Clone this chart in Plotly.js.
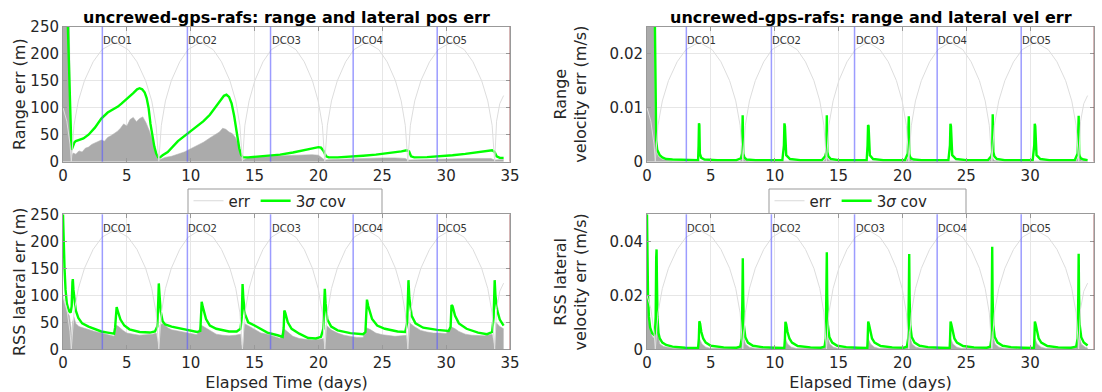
<!DOCTYPE html>
<html><head><meta charset="utf-8">
<script src="https://cdn.plot.ly/plotly-3.0.1.min.js"></script>
<style>html,body{margin:0;padding:0;background:#fff}#chart{width:1102px;height:392px}</style>
</head><body><div id="chart"></div>
<script>
// ---------- data ----------
const xTicks = [0, 5, 10, 15, 20, 25, 30, 35];
const dcoDays = [3.08, 9.74, 16.25, 22.72, 29.3];
const dcoNames = ['DCO1', 'DCO2', 'DCO3', 'DCO4', 'DCO5'];
const endDay = [35];

// light gray arcs (fraction of axis height)
const arcDays = [0, 0.3, 0.55, 0.65,
  0.86, 1.2, 1.68, 2.36, 3.05, 4.08, 5.1, 5.79, 6.47, 6.95, 7.29, 7.5,
  7.7, 8.02, 8.48, 9.14, 9.79, 10.78, 11.76, 12.41, 13.07, 13.53, 13.85, 14.05,
  14.24, 14.57, 15.02, 15.66, 16.31, 17.28, 18.24, 18.89, 19.53, 19.98, 20.31, 20.5,
  20.7, 21.02, 21.48, 22.13, 22.78, 23.75, 24.73, 25.38, 26.03, 26.48, 26.8, 27.0,
  27.2, 27.54, 28.02, 28.7, 29.38, 30.4, 31.42, 32.1, 32.78, 33.26, 33.6, 33.8,
  33.95, 34.2, 34.5];
const arcFrac = [0.4, 0.3, 0.13, 0,
  0.27, 0.45, 0.6, 0.74, 0.83, 0.886, 0.83, 0.74, 0.6, 0.45, 0.27, 0,
  0.27, 0.45, 0.6, 0.74, 0.83, 0.886, 0.83, 0.74, 0.6, 0.45, 0.27, 0,
  0.27, 0.45, 0.6, 0.74, 0.83, 0.886, 0.83, 0.74, 0.6, 0.45, 0.27, 0,
  0.27, 0.45, 0.6, 0.74, 0.83, 0.886, 0.83, 0.74, 0.6, 0.45, 0.27, 0,
  0.27, 0.45, 0.6, 0.74, 0.83, 0.886, 0.83, 0.74, 0.6, 0.45, 0.27, 0,
  0.3, 0.43, 0.49];

// range position error (m)
const errPosRangeX = [0,0.5,0.55,0.62,0.68,0.8,1.0,1.25,1.5,1.75,2.0,2.25,2.5,2.75,3.0,3.25,3.5,3.75,4.0,4.25,4.5,4.75,5.0,5.25,5.5,5.75,6.0,6.25,6.5,6.75,7.0,7.25,7.45,7.6,8.0,8.5,9.0,9.5,10.0,10.5,11.0,11.5,12.0,12.25,12.5,12.75,13.0,13.25,13.5,13.75,13.9,14.05,14.2,14.5,15,16,17,18,19,19.5,20,20.3,20.5,21,22,23,24,25,26,26.8,27,28,30,32,33.5,33.8,34.5];
const errPosRangeY = [250,250,120,40,12,16,14,20,18,25,27,32,35,38,40,38,45,48,52,56,62,70,66,78,82,74,80,83,72,58,40,18,4,4,8,10,14,18,24,30,36,44,52,55,62,60,55,52,45,30,12,3,4,8,9,10,10,11,12,13,12,6,3,4,5,6,6,7,7,6,3,4,5,6,6,3,4];
const covPosRangeX = [0.2,0.39,0.5,0.6,0.66,0.72,0.8,0.9,1.0,1.1,1.3,1.6,2.0,2.5,3.0,3.5,4.0,4.3,4.6,5.0,5.5,5.8,6.0,6.2,6.4,6.55,6.7,6.85,7.0,7.15,7.3,7.45,7.6,7.8,8.2,9.0,9.75,10.5,11.0,11.5,12.0,12.3,12.6,12.8,13.0,13.2,13.4,13.6,13.8,13.95,14.1,14.5,15,16,17,18,19,19.7,20.0,20.2,20.4,20.6,20.8,21.5,22.5,23.5,24.5,25.5,26.5,26.9,27.1,27.25,27.5,28.5,29.5,30.5,31.5,32.5,33.3,33.6,33.8,33.95,34.2,34.5];
const covPosRangeY = [400,250,150,60,22,25,30,36,38,39,40,43,50,63,80,91,98,102,108,116,127,134,136,134,128,118,100,70,45,28,15,8,8,12,18,38,52,66,75,87,103,113,122,124,120,108,85,55,25,12,8,8,9,10.5,13,17,22,26,27,26,20,10,8,8,9,11,13,15.5,19,21,19,10,8,8.5,10,12,14.5,17,20,21,18,10,7,7];

// range velocity error (m/s)
const errVelRangeX = [0,0.55,0.6,0.65,0.75,0.9,1.2,1.6,2.0,7.3,7.5,7.7,8.0,13.85,14.05,14.25,14.5,20.3,20.5,20.7,21.0,26.8,27.0,27.2,27.5,33.6,33.8,34.0,34.5];
const errVelRangeY = [0.025,0.025,0.012,0.004,0.0018,0.0009,0.0004,0.0002,0.0001,0.0001,0.0009,0.0002,0.0001,0.0001,0.0009,0.0002,0.0001,0.0001,0.0009,0.0002,0.0001,0.0001,0.0009,0.0002,0.0001,0.0001,0.0009,0.0002,0.0001];
const covVelRangeX = [0.55,0.6,0.63,0.67,0.72,0.8,0.9,1.0,1.2,1.5,2.0,3.0,4.0,4.04,4.07,4.1,4.14,4.25,4.5,5.5,7.0,7.35,7.44,7.49,7.54,7.62,7.8,8.5,10.6,10.72,10.76,10.8,10.9,11.2,12,13.7,13.95,14.04,14.08,14.12,14.2,14.4,15,17.2,17.27,17.31,17.35,17.45,17.7,18.5,20.2,20.42,20.5,20.54,20.58,20.68,20.9,21.5,23.6,23.72,23.76,23.8,23.9,24.2,25,26.7,26.95,27.03,27.07,27.12,27.2,27.4,28,30.2,30.32,30.36,30.4,30.5,30.8,31.5,33.5,33.72,33.8,33.84,33.88,33.98,34.2,34.5];
const covVelRangeY = [0.04,0.025,0.015,0.009,0.004,0.0022,0.0016,0.0012,0.0008,0.0005,0.0004,0.0003,0.0003,0.003,0.0071,0.0068,0.0015,0.0007,0.0004,0.0003,0.0003,0.0006,0.0015,0.0086,0.0015,0.0008,0.0004,0.0003,0.0003,0.003,0.0071,0.0066,0.0012,0.0005,0.0003,0.0003,0.001,0.0018,0.0086,0.0018,0.001,0.0005,0.0003,0.0003,0.003,0.0068,0.0066,0.0012,0.0005,0.0003,0.0003,0.0015,0.0084,0.0015,0.001,0.0006,0.0004,0.0003,0.0003,0.003,0.007,0.0066,0.0012,0.0005,0.0003,0.0003,0.001,0.0018,0.0088,0.0018,0.001,0.0005,0.0003,0.0003,0.003,0.007,0.0066,0.0012,0.0005,0.0003,0.0003,0.0015,0.0085,0.0015,0.001,0.0006,0.0004,0.0003];

// RSS lateral position error (m)
const errLatPosX = [0,0.15,0.3,0.5,0.62,0.68,0.75,0.85,1.0,1.25,1.5,2.0,2.5,3.0,3.5,4.0,4.15,4.35,4.7,5.0,5.5,6.0,6.5,7.0,7.3,7.45,7.52,7.6,7.8,8.2,8.5,9.0,9.5,10.0,10.5,10.8,11.0,11.5,12.0,12.5,13.0,13.5,13.9,14.0,14.08,14.2,14.5,15.0,15.5,16.0,16.5,17.0,17.3,17.6,18.0,18.5,19.0,19.5,20.0,20.4,20.5,20.6,21.0,21.5,22.0,22.5,23.0,23.5,23.75,24.1,24.5,25.0,25.5,26.0,26.5,26.9,27.0,27.1,27.5,28.0,28.5,29.0,29.5,30.0,30.35,30.7,31.0,31.5,32.0,32.5,33.0,33.6,33.8,33.9,34.2,34.5];
const errLatPosY = [95,80,70,62,40,12,50,60,48,42,40,36,33,30,27,24,45,42,35,30,28,26,27,28,30,10,4,45,48,40,36,34,32,30,27,45,42,34,28,26,25,26,28,8,4,48,44,36,30,28,24,20,38,32,24,20,18,17,18,20,5,45,36,30,26,24,22,22,40,36,30,27,25,24,25,26,5,50,42,35,32,30,30,29,42,38,33,28,26,25,25,28,5,50,42,38];
const covLatPosX = [0,0.05,0.12,0.2,0.3,0.4,0.5,0.6,0.68,0.74,0.77,0.82,0.9,1.0,1.2,1.5,2.0,2.5,3.0,3.5,4.0,4.08,4.15,4.2,4.3,4.5,4.8,5.2,6.0,6.8,7.2,7.38,7.46,7.5,7.56,7.65,7.8,8.0,8.5,9.5,10.5,10.75,10.8,10.86,10.95,11.2,11.5,12,13,13.6,13.9,14.0,14.06,14.12,14.25,14.5,15,16,16.8,17.2,17.28,17.33,17.4,17.6,17.9,18.5,19.2,19.8,20.2,20.38,20.46,20.5,20.56,20.7,21.0,21.5,22.5,23.5,23.68,23.74,23.8,23.9,24.2,24.6,25.2,26.2,26.8,26.95,27.0,27.05,27.12,27.3,27.6,28.2,29.3,30.2,30.35,30.42,30.5,30.7,31.0,31.6,32.5,33.2,33.6,33.72,33.8,33.86,34.0,34.2,34.5];
const covLatPosY = [250,200,150,110,85,76,70,68,80,125,130,110,88,72,58,48,42,37,33,31,29,40,76,78,70,55,44,37,32,31,33,42,90,122,100,70,52,46,42,37,32,34,70,88,78,56,44,38,33,33,38,60,121,95,65,50,44,31,26,23,40,72,68,50,38,29,21,20,23,38,90,112,85,55,42,35,30,28,32,80,92,80,56,44,38,33,32,50,100,128,95,62,48,40,36,34,42,82,80,62,48,38,31,28,32,60,128,100,72,55,44];

// RSS lateral velocity error (m/s)
const errLatVelX = [0,0.05,0.1,0.2,0.3,0.45,0.6,0.7,0.75,0.8,0.9,1.0,1.3,2.0,4.0,4.1,4.3,4.6,5.0,7.3,7.5,7.7,8.0,8.5,10.75,10.84,11.0,11.3,11.7,13.9,14.08,14.3,14.6,15.0,17.25,17.32,17.5,17.8,18.2,20.35,20.53,20.75,21.05,21.5,23.7,23.77,23.95,24.25,24.65,26.85,27.03,27.25,27.55,28.0,30.3,30.37,30.55,30.85,31.25,33.6,33.8,34.0,34.3,34.5];
const errLatVelY = [0.02,0.015,0.012,0.008,0.006,0.0045,0.004,0.009,0.014,0.007,0.004,0.002,0.001,0.0004,0.0003,0.004,0.002,0.0008,0.0003,0.0005,0.006,0.002,0.0008,0.0003,0.0003,0.004,0.002,0.0008,0.0003,0.0005,0.006,0.002,0.0008,0.0003,0.0003,0.004,0.002,0.0008,0.0003,0.0005,0.006,0.002,0.0008,0.0003,0.0003,0.004,0.002,0.0008,0.0003,0.0005,0.006,0.002,0.0008,0.0003,0.0003,0.004,0.002,0.0008,0.0003,0.0005,0.006,0.002,0.0008,0.0005];
const covLatVelX = [0,0.03,0.08,0.15,0.25,0.4,0.55,0.62,0.68,0.72,0.75,0.78,0.82,0.9,1.0,1.2,1.5,2.0,3.0,4.0,4.06,4.1,4.16,4.25,4.4,4.6,5.0,6.0,7.0,7.3,7.42,7.47,7.5,7.53,7.58,7.7,7.9,8.3,9.0,10.0,10.75,10.8,10.84,10.9,11.0,11.15,11.35,11.8,12.8,13.6,13.9,14.0,14.05,14.08,14.11,14.16,14.28,14.5,14.9,15.6,16.5,17.25,17.28,17.32,17.38,17.48,17.62,17.82,18.3,19.2,20.1,20.35,20.45,20.5,20.53,20.56,20.61,20.73,20.95,21.35,22.0,23.0,23.7,23.73,23.77,23.83,23.93,24.07,24.27,24.75,25.6,26.6,26.88,26.97,27.0,27.03,27.06,27.11,27.23,27.45,27.85,28.5,29.5,30.3,30.33,30.37,30.43,30.53,30.67,30.87,31.35,32.2,33.2,33.6,33.72,33.77,33.8,33.83,33.88,34.0,34.2,34.5];
const covLatVelY = [0.05,0.035,0.02,0.012,0.008,0.006,0.0053,0.006,0.012,0.034,0.037,0.025,0.012,0.006,0.004,0.0025,0.0016,0.001,0.0006,0.0005,0.004,0.0104,0.0095,0.0065,0.004,0.0025,0.0013,0.0007,0.0006,0.001,0.004,0.02,0.0337,0.02,0.009,0.0045,0.0025,0.0013,0.0008,0.0006,0.0005,0.004,0.0102,0.0093,0.0065,0.004,0.0025,0.0012,0.0007,0.0006,0.001,0.004,0.02,0.0359,0.02,0.009,0.0045,0.0025,0.0013,0.0008,0.0006,0.0005,0.004,0.0103,0.0093,0.0065,0.004,0.0025,0.0012,0.0007,0.0006,0.001,0.004,0.02,0.0353,0.02,0.009,0.0045,0.0025,0.0013,0.0008,0.0006,0.0005,0.004,0.0103,0.0093,0.0065,0.004,0.0025,0.0012,0.0007,0.0006,0.001,0.004,0.02,0.038,0.02,0.009,0.0045,0.0025,0.0013,0.0008,0.0006,0.0005,0.004,0.0103,0.0093,0.0065,0.004,0.0025,0.0012,0.0007,0.0006,0.001,0.004,0.02,0.0354,0.02,0.009,0.0045,0.0025,0.0014];

const titles = ['uncrewed-gps-rafs: range and lateral pos err', 'uncrewed-gps-rafs: range and lateral vel err'];
const yTitles = ['Range err (m)', 'Range<br>velocity err (m/s)', 'RSS lateral err (m)', 'RSS lateral<br>velocity err (m/s)'];
const yRanges = [[0, 250], [0, 0.025], [0, 250], [0, 0.05]];
const yDticks = [50, 0.01, 50, 0.02];
const legendNames = ['err', '3<i>σ</i> cov'];

// ---------- styling ----------
const W = 1102, H = 392;
const FONT = 'DejaVu Sans, Liberation Sans, sans-serif';
const GREEN = '#00ff00', ERRGRAY = '#ababab', ARC = '#dddddd';
const xDom = [[63 / W, 510 / W], [647 / W, 1094 / W]];
const yDom = [[1 - 161.7 / H, 1 - 26.7 / H], [1 - 349.3 / H, 1 - 214.3 / H]];
const yStandoff = [0, 18, 0, 18];

const panels = [
  {errX: errPosRangeX, errY: errPosRangeY, covX: covPosRangeX, covY: covPosRangeY},
  {errX: errVelRangeX, errY: errVelRangeY, covX: covVelRangeX, covY: covVelRangeY},
  {errX: errLatPosX, errY: errLatPosY, covX: covLatPosX, covY: covLatPosY},
  {errX: errLatVelX, errY: errLatVelY, covX: covLatVelX, covY: covLatVelY}
];

const traces = [];
const layout = {
  width: W, height: H, margin: {l: 0, r: 0, t: 0, b: 0},
  paper_bgcolor: '#fff', plot_bgcolor: '#fff',
  font: {family: FONT, color: '#262626'},
  showlegend: true, shapes: [], annotations: []
};

panels.forEach((p, i) => {
  const n = i + 1;
  const xs = n === 1 ? '' : n;
  const col = i % 2, row = Math.floor(i / 2);
  const xa = 'x' + (n === 1 ? '' : n), ya = 'y' + (n === 1 ? '' : n);
  const oa = 'y' + (n + 4);
  layout['xaxis' + xs] = {
    domain: xDom[col], anchor: ya, range: [0, 35], tickvals: xTicks,
    ticks: 'inside', ticklen: 4, tickcolor: '#999', showline: true, linecolor: '#999', linewidth: 1,
    mirror: 'ticks', showgrid: true, gridcolor: '#e6e6e6', zeroline: false,
    tickfont: {size: 15, color: '#262626'},
    title: row === 1 ? {text: 'Elapsed Time (days)', font: {size: 16, color: '#262626'}, standoff: 6} : {text: ''}
  };
  layout['yaxis' + xs] = {
    domain: yDom[row], anchor: xa, range: yRanges[i], dtick: yDticks[i], tick0: 0,
    ticks: 'inside', ticklen: 4, tickcolor: '#999', showline: true, linecolor: '#999', linewidth: 1,
    mirror: 'ticks', showgrid: true, gridcolor: '#e6e6e6', zeroline: false,
    tickfont: {size: 15, color: '#262626'},
    title: {text: yTitles[i], font: {size: 16, color: '#262626'}, standoff: yStandoff[i]}
  };
  layout['yaxis' + (n + 4)] = {overlaying: ya, anchor: xa, range: [0, 1], visible: false, showgrid: false};

  traces.push({x: arcDays, y: arcFrac, xaxis: xa, yaxis: oa, mode: 'lines', showlegend: false,
    line: {color: ARC, width: 1}, hoverinfo: 'skip'});
  traces.push({x: p.errX, y: p.errY, xaxis: xa, yaxis: ya, mode: 'lines', fill: 'tozeroy', showlegend: false,
    fillcolor: ERRGRAY, line: {color: '#b4b4b4', width: 0.6}, hoverinfo: 'skip'});
  traces.push({x: p.covX, y: p.covY, xaxis: xa, yaxis: ya, mode: 'lines', showlegend: false,
    line: {color: GREEN, width: 2.4}, cliponaxis: true});

  dcoDays.forEach((d, k) => {
    layout.shapes.push({type: 'line', xref: xa, yref: ya + ' domain', x0: d, x1: d, y0: 0, y1: 1,
      line: {color: 'rgba(90,90,255,0.6)', width: 1.5}, layer: 'above'});
    layout.annotations.push({xref: xa, yref: ya + ' domain', x: d, y: 0.895, text: dcoNames[k],
      showarrow: false, xanchor: 'left', yanchor: 'middle', font: {size: 10, color: '#333'}, xshift: -1});
  });
  endDay.forEach(d => layout.shapes.push({type: 'line', xref: xa, yref: ya + ' domain', x0: d, x1: d, y0: 0, y1: 1,
    line: {color: 'rgba(150,70,70,0.8)', width: 1}, layer: 'above'}));
});

// titles
[0, 1].forEach(c => layout.annotations.push({xref: 'paper', yref: 'paper', x: (xDom[c][0] + xDom[c][1]) / 2,
  y: 1 - 17 / H, text: '<b>' + titles[c] + '</b>', showarrow: false, xanchor: 'center', yanchor: 'middle',
  font: {size: 16, color: '#000'}}));

// legend boxes and entries
const legBox = [[188, 382], [769, 966]];
legBox.forEach((b, c) => {
  layout.shapes.push({type: 'rect', xref: 'paper', yref: 'paper', x0: b[0] / W, x1: b[1] / W,
    y0: 1 - 213.5 / H, y1: 1 - 189 / H, fillcolor: '#fff', line: {color: '#999', width: 1}, layer: 'above'});
  const lg = c === 0 ? 'legend' : 'legend2';
  layout[lg] = {orientation: 'h', x: (c === 0 ? 270 : 851) / W, xanchor: 'center', y: 1 - 201 / H, yanchor: 'middle',
    bgcolor: 'rgba(0,0,0,0)', borderwidth: 0, font: {size: 15, color: '#262626'}, itemwidth: 30, tracegroupgap: 0,
    traceorder: 'normal'};
  const xa = c === 0 ? 'x3' : 'x4', ya = c === 0 ? 'y3' : 'y4';
  traces.push({x: [null], y: [null], xaxis: xa, yaxis: ya, mode: 'lines', name: legendNames[0], legend: lg,
    showlegend: true, line: {color: '#d9d9d9', width: 1}});
  traces.push({x: [null], y: [null], xaxis: xa, yaxis: ya, mode: 'lines', name: legendNames[1], legend: lg,
    showlegend: true, line: {color: GREEN, width: 2.4}});
});

Plotly.newPlot('chart', traces, layout, {displayModeBar: false, staticPlot: true});
</script></body></html>
